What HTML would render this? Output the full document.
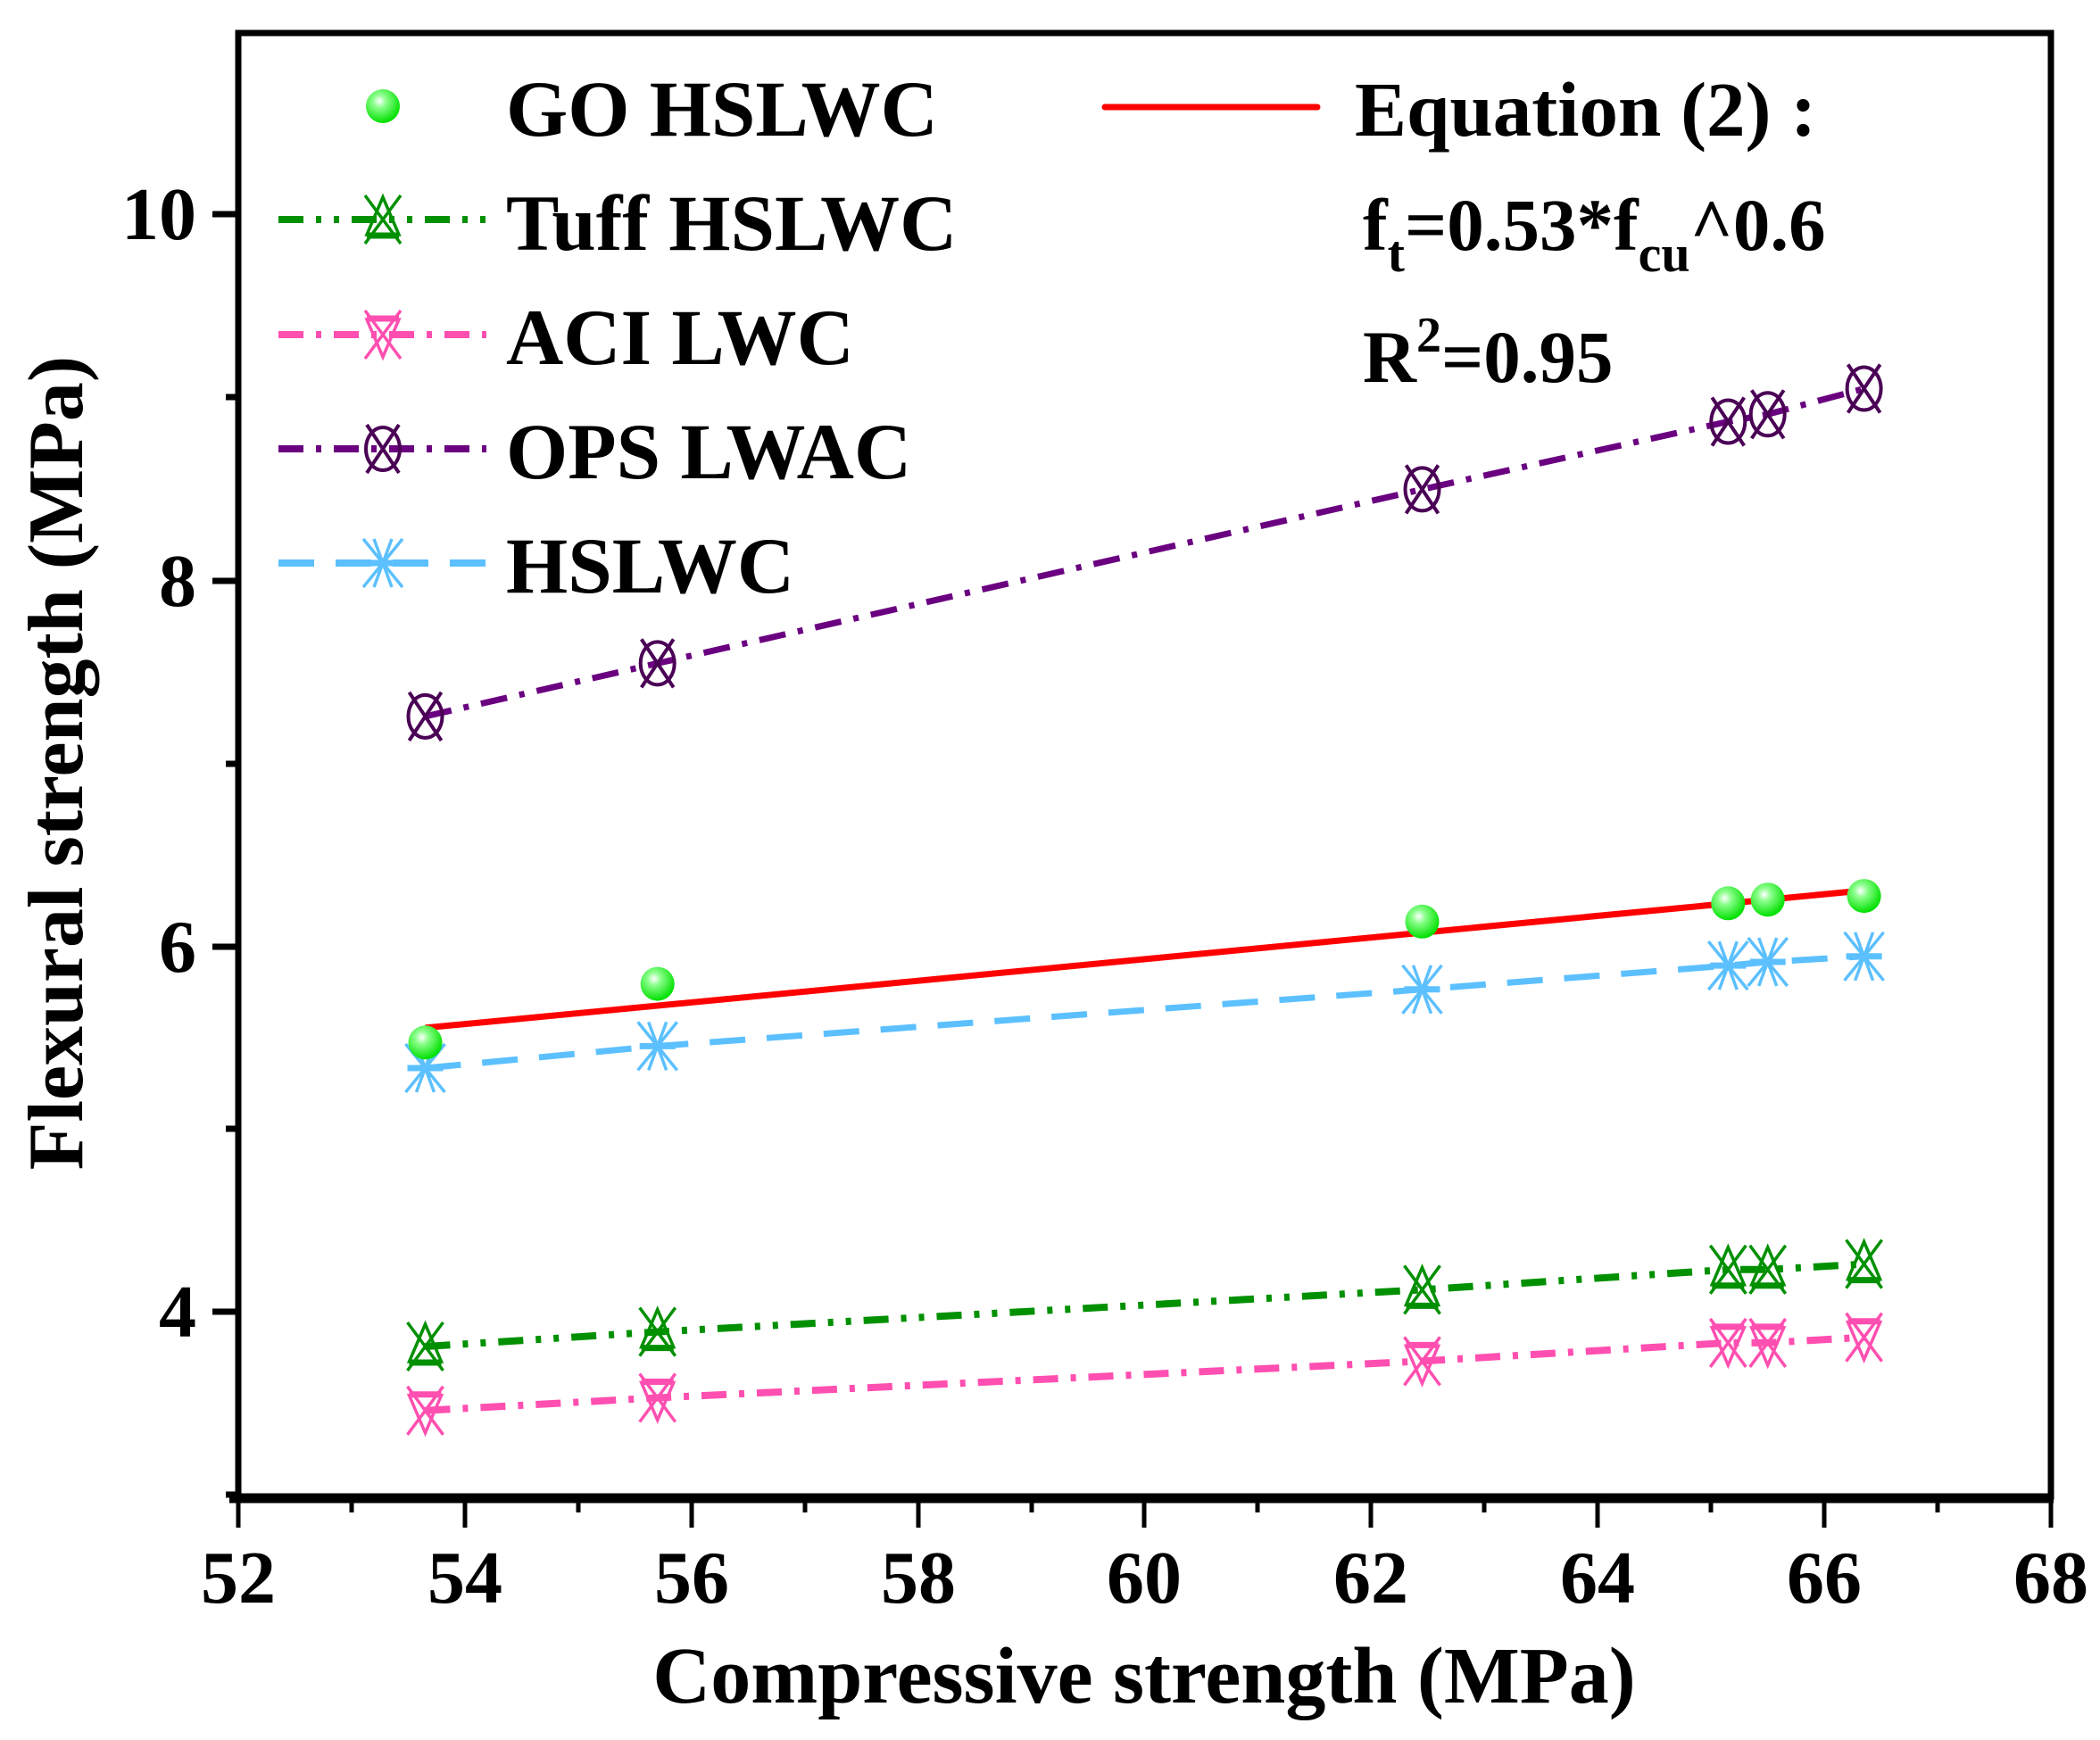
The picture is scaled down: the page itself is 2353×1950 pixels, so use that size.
<!DOCTYPE html>
<html><head><meta charset="utf-8"><style>
html,body{margin:0;padding:0;background:#fff}
svg{display:block}
text{font-family:"Liberation Serif",serif;font-weight:bold;fill:#000}
</style></head><body>
<svg width="2353" height="1950" viewBox="0 0 2353 1950" xmlns="http://www.w3.org/2000/svg">
<defs>
<radialGradient id="gg" cx="0.4" cy="0.35" r="0.65">
<stop offset="0" stop-color="#ffffff"/><stop offset="0.3" stop-color="#8cff8c"/><stop offset="1" stop-color="#00e000"/></radialGradient>
<g id="go"><circle r="19" fill="url(#gg)"/></g>
<g id="tuff" fill="none" stroke="#009000" stroke-width="3.5"><path d="M-20,-27 L20,27 M20,-27 L-20,27"/><path d="M0,-25 L-18,17 L18,17 Z"/><path d="M-18,18 L18,18" stroke-width="7"/></g>
<g id="aci" fill="none" stroke="#ff4fb0" stroke-width="3.5"><path d="M-20,-27 L20,27 M20,-27 L-20,27"/><path d="M0,25 L-18,-17 L18,-17 Z"/><path d="M-18,-18 L18,-18" stroke-width="7"/></g>
<g id="ops" fill="none" stroke="#4a0055" stroke-width="4"><ellipse rx="19" ry="24"/><path d="M-18,-27 L18,27 M18,-27 L-18,27"/></g>
<g id="hs" fill="none" stroke="#5cc0ff" stroke-width="3.5"><path d="M-22,-27 L22,27 M22,-27 L-22,27 M-10,-27 L10,27 M10,-27 L-10,27"/><path d="M-20,0 L20,0" stroke-width="7"/></g>
</defs>

<rect x="267" y="37" width="2031" height="1640" fill="none" stroke="#000" stroke-width="7"/>
<line x1="257" y1="1680" x2="2301" y2="1680" stroke="#000" stroke-width="9"/>

<g stroke="#000" stroke-width="5">
<line x1="267" y1="1680" x2="267" y2="1712"/><line x1="521" y1="1680" x2="521" y2="1712"/><line x1="775" y1="1680" x2="775" y2="1712"/><line x1="1029" y1="1680" x2="1029" y2="1712"/><line x1="1282" y1="1680" x2="1282" y2="1712"/><line x1="1536" y1="1680" x2="1536" y2="1712"/><line x1="1790" y1="1680" x2="1790" y2="1712"/><line x1="2044" y1="1680" x2="2044" y2="1712"/><line x1="2298" y1="1680" x2="2298" y2="1712"/>
<line x1="394" y1="1680" x2="394" y2="1695"/><line x1="648" y1="1680" x2="648" y2="1695"/><line x1="902" y1="1680" x2="902" y2="1695"/><line x1="1156" y1="1680" x2="1156" y2="1695"/><line x1="1409" y1="1680" x2="1409" y2="1695"/><line x1="1663" y1="1680" x2="1663" y2="1695"/><line x1="1917" y1="1680" x2="1917" y2="1695"/><line x1="2171" y1="1680" x2="2171" y2="1695"/>
</g>
<g font-size="84" text-anchor="middle">
<text x="267" y="1796">52</text><text x="521" y="1796">54</text><text x="775" y="1796">56</text><text x="1029" y="1796">58</text><text x="1282" y="1796">60</text><text x="1536" y="1796">62</text><text x="1790" y="1796">64</text><text x="2044" y="1796">66</text><text x="2298" y="1796">68</text>
</g>
<text x="1282" y="1908" font-size="90" text-anchor="middle">Compressive strength (MPa)</text>

<g stroke="#000" stroke-width="7">
<line x1="238" y1="240" x2="267" y2="240"/><line x1="238" y1="651" x2="267" y2="651"/><line x1="238" y1="1061" x2="267" y2="1061"/><line x1="238" y1="1470" x2="267" y2="1470"/>
<line x1="253" y1="445" x2="267" y2="445"/><line x1="253" y1="856" x2="267" y2="856"/><line x1="253" y1="1265" x2="267" y2="1265"/><line x1="253" y1="1675" x2="267" y2="1675"/>
</g>
<g font-size="84" text-anchor="end">
<text x="220" y="268">10</text><text x="220" y="679">8</text><text x="220" y="1089">6</text><text x="220" y="1498">4</text>
</g>
<text transform="translate(92,855) rotate(-90)" font-size="88" text-anchor="middle">Flexural strength (MPa)</text>

<polyline points="476.5,802.9 736.7,743.4 1593.5,548.4 1936.3,472.5 1980.7,464.3 2088.6,435.5" fill="none" stroke="#6a0080" stroke-width="7" stroke-dasharray="30,14,6,14"/>
<polyline points="476.5,1197 736.7,1172.4 1593.5,1108.8 1936.3,1082.1 1980.7,1078 2088.6,1071.8" fill="none" stroke="#5cc0ff" stroke-width="7" stroke-dasharray="40,24"/>
<line x1="476.5" y1="1151.9" x2="2088.6" y2="997.9" stroke="#ff0000" stroke-width="7"/>
<polyline points="476.5,1509 736.7,1492.6 1593.5,1445.4 1936.3,1422.8 1980.7,1422.8 2088.6,1416.6" fill="none" stroke="#009000" stroke-width="8" stroke-dasharray="28,14,6,14,6,14"/>
<polyline points="476.5,1580.8 736.7,1566.5 1593.5,1525.4 1936.3,1504.9 1980.7,1504.9 2088.6,1498.7" fill="none" stroke="#ff4fb0" stroke-width="8" stroke-dasharray="28,14,6,14"/>

<use href="#ops" x="476.5" y="802.9"/><use href="#ops" x="736.7" y="743.4"/><use href="#ops" x="1593.5" y="548.4"/><use href="#ops" x="1936.3" y="472.5"/><use href="#ops" x="1980.7" y="464.3"/><use href="#ops" x="2088.6" y="435.5"/>
<use href="#hs" x="476.5" y="1197"/><use href="#hs" x="736.7" y="1172.4"/><use href="#hs" x="1593.5" y="1108.8"/><use href="#hs" x="1936.3" y="1082.1"/><use href="#hs" x="1980.7" y="1078"/><use href="#hs" x="2088.6" y="1071.8"/>
<use href="#go" x="476.5" y="1168.3"/><use href="#go" x="736.7" y="1102.6"/><use href="#go" x="1593.5" y="1032.8"/><use href="#go" x="1936.3" y="1012.3"/><use href="#go" x="1980.7" y="1008.2"/><use href="#go" x="2088.6" y="1004.1"/>
<use href="#tuff" x="476.5" y="1509"/><use href="#tuff" x="736.7" y="1492.6"/><use href="#tuff" x="1593.5" y="1445.4"/><use href="#tuff" x="1936.3" y="1422.8"/><use href="#tuff" x="1980.7" y="1422.8"/><use href="#tuff" x="2088.6" y="1416.6"/>
<use href="#aci" x="476.5" y="1580.8"/><use href="#aci" x="736.7" y="1566.5"/><use href="#aci" x="1593.5" y="1525.4"/><use href="#aci" x="1936.3" y="1504.9"/><use href="#aci" x="1980.7" y="1504.9"/><use href="#aci" x="2088.6" y="1498.7"/>

<use href="#go" x="429" y="119"/>
<line x1="312" y1="246" x2="545" y2="246" stroke="#009000" stroke-width="8" stroke-dasharray="28,14,6,14,6,14"/><use href="#tuff" x="429" y="246"/>
<line x1="312" y1="375" x2="545" y2="375" stroke="#ff4fb0" stroke-width="8" stroke-dasharray="28,14,6,14"/><use href="#aci" x="429" y="375"/>
<line x1="312" y1="503" x2="545" y2="503" stroke="#6a0080" stroke-width="8" stroke-dasharray="28,14,6,14"/><use href="#ops" x="429" y="503"/>
<line x1="312" y1="631" x2="545" y2="631" stroke="#5cc0ff" stroke-width="8" stroke-dasharray="40,24"/><use href="#hs" x="429" y="631"/>
<g font-size="89">
<text x="567" y="152">GO HSLWC</text>
<text x="567" y="280">Tuff HSLWC</text>
<text x="567" y="408">ACI LWC</text>
<text x="567" y="536">OPS LWAC</text>
<text x="567" y="664">HSLWC</text>
</g>
<line x1="1238" y1="120" x2="1476" y2="120" stroke="#ff0000" stroke-width="7" stroke-linecap="round"/>
<text x="1518" y="152" font-size="87">Equation (2) :</text>
<text x="1527" y="280" font-size="83">f<tspan font-size="58" dy="24">t</tspan><tspan dy="-24">=0.53*f</tspan><tspan font-size="58" dy="24">cu</tspan><tspan dy="-24">^0.6</tspan></text>
<text x="1527" y="428" font-size="83">R<tspan font-size="56" dy="-34">2</tspan><tspan dy="34">=0.95</tspan></text>
</svg>
</body></html>
